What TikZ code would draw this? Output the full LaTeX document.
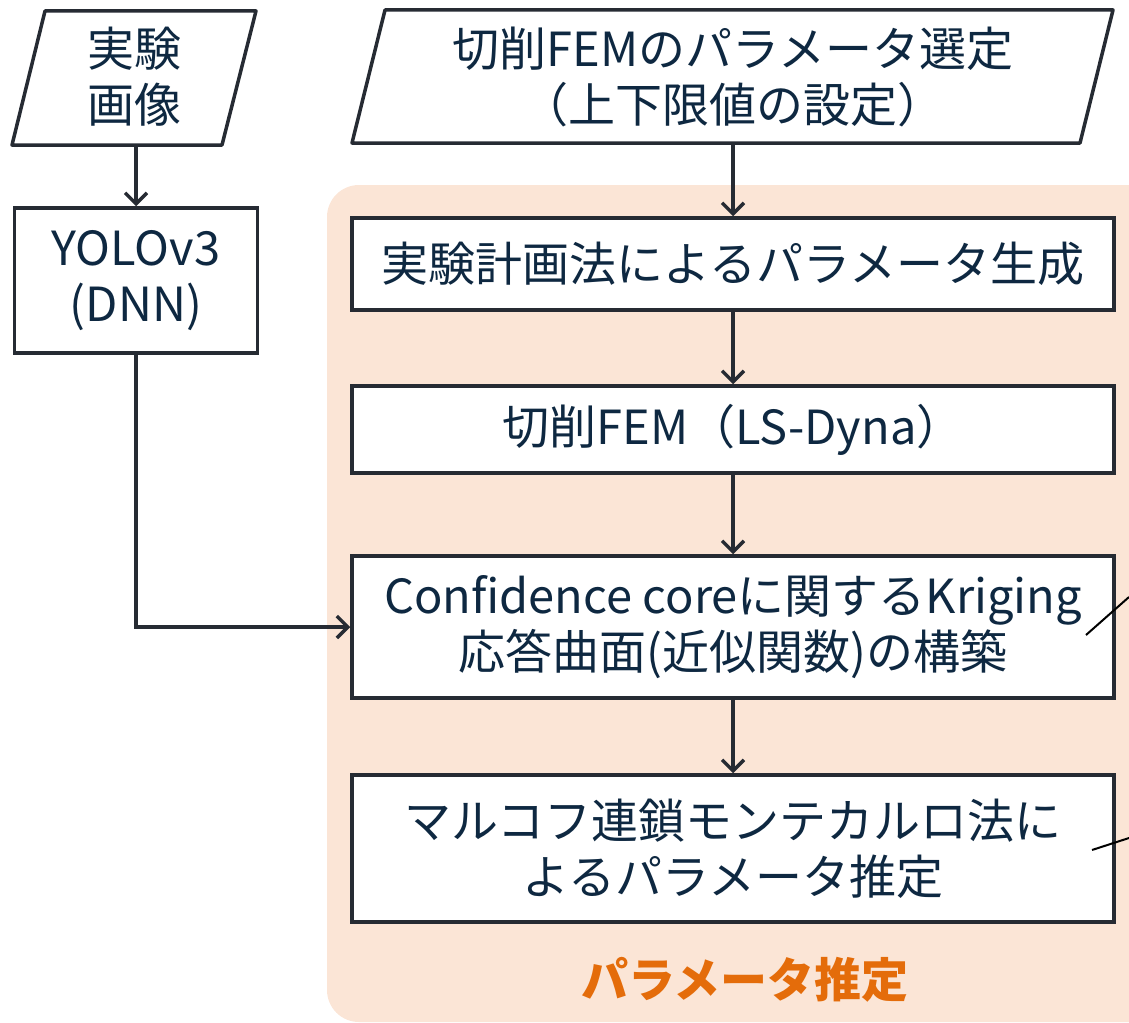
\documentclass[tikz,border=0pt]{standalone}
\usepackage{fontspec}
\setmainfont{Noto Sans CJK JP}
\usetikzlibrary{arrows.meta}
\definecolor{lineC}{HTML}{262B33}
\definecolor{textC}{HTML}{0E2841}
\definecolor{bandC}{HTML}{FBE5D6}
\definecolor{orangeC}{HTML}{E46C0A}
\begin{document}
\begin{tikzpicture}[x=1pt,y=-1pt,
  box/.style={draw=lineC, line width=3.5pt, fill=white, minimum width=762pt, inner sep=0pt, align=center, text=textC, font=\fontsize{47}{56}\selectfont},
  txt/.style={align=center, text=textC, inner sep=0pt, font=\fontsize{47}{56}\selectfont},
  flow/.style={draw=lineC, line width=3.5pt, -{Straight Barb[length=11pt,width=22pt]}},
  callout/.style={draw=black, line width=2pt}]
\useasboundingbox (0,0) rectangle (1129,1022);
\clip (0,0) rectangle (1129,1022);
% background band
\fill[bandC, rounded corners=32pt] (327,185) rectangle (1180,1022);
% parallelogram 1
\draw[lineC, line width=3.5pt, line join=round, fill=white] (45,11) -- (256,11) -- (222,145) -- (12,145) -- cycle;
\node[txt] (img) at (134,77) {実験\\画像};
\coordinate (imgB) at (136,145);
% parallelogram 2
\draw[lineC, line width=3.5pt, line join=round, fill=white] (385,10) -- (1113,10) -- (1080,143) -- (352,143) -- cycle;
\node[txt] (sel) at (733,77) {切削FEMのパラメータ選定\\（上下限値の設定）};
\coordinate (selB) at (733,143);
% boxes
\node[box, minimum width=243pt, minimum height=145pt] (yolo) at (136,280.5) {YOLOv3\\(DNN)};
\node[box, minimum height=92pt] (b1) at (733,264) {実験計画法によるパラメータ生成};
\node[box, minimum height=87pt] (b2) at (733,429.5) {切削FEM（LS-Dyna）};
\node[box, minimum height=142pt] (b3) at (733,627) {Confidence coreに関するKriging\\応答曲面(近似関数)の構築};
\node[box, minimum height=147pt] (b4) at (733,848.5) {マルコフ連鎖モンテカルロ法に\\よるパラメータ推定};
\node[text=orangeC, inner sep=0pt, font=\fontsize{47}{52}\selectfont\bfseries] (lab) at (745,980) {パラメータ推定};
% connectors
\draw[flow] (imgB) -- (yolo.north);
\draw[flow] (selB) -- (b1.north);
\draw[flow] (b1) -- (b2);
\draw[flow] (b2) -- (b3);
\draw[flow] (b3) -- (b4);
\draw[flow] (yolo.south) |- (b3.west);
% callout lines
\coordinate (c1a) at (1086,635);
\coordinate (c1b) at (1129,597);
\coordinate (c2a) at (1092,850);
\coordinate (c2b) at (1129,838);
\draw[callout] (c1a) -- (c1b);
\draw[callout] (c2a) -- (c2b);
\end{tikzpicture}
\end{document}
